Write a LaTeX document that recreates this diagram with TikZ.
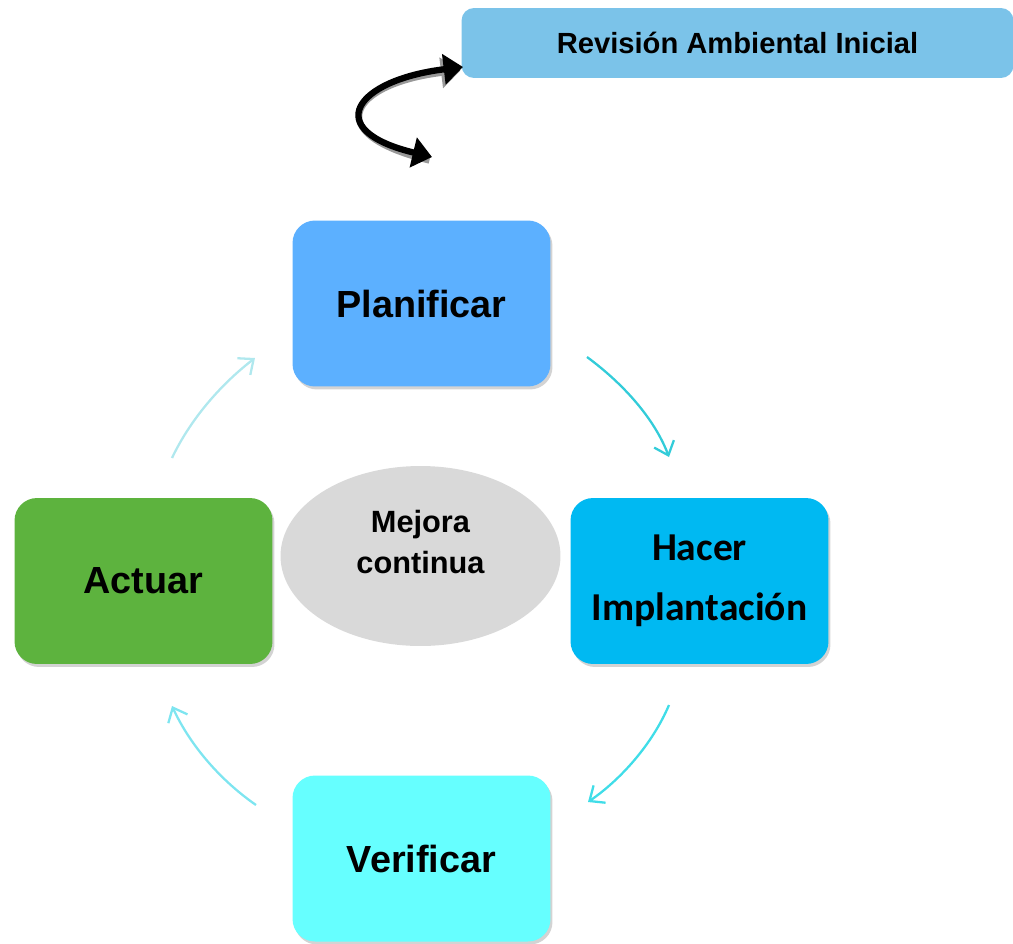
\documentclass[tikz,border=0pt]{standalone}
\usepackage{fontspec}
\setmainfont{Liberation Sans}
\newfontfamily\calfont{Carlito}
\usetikzlibrary{shadows,arrows.meta,shapes.geometric}

\definecolor{revblue}{HTML}{7BC3E9}
\definecolor{planblue}{HTML}{5CB0FF}
\definecolor{hacerblue}{HTML}{00B9F2}
\definecolor{verifcyan}{HTML}{66FFFF}
\definecolor{actgreen}{HTML}{5DB33E}
\definecolor{mejoragray}{HTML}{D9D9D9}

\tikzset{
  phase/.style={rounded corners=0.45cm, minimum width=5.16cm, minimum height=3.32cm,
    align=center, font=\bfseries\fontsize{21.5}{26}\selectfont,
    drop shadow={shadow xshift=0.04cm, shadow yshift=-0.06cm, opacity=0.35}},
  cyclearrow/.style={line width=1.3pt, -{Straight Barb[length=7pt,width=12pt,line width=1.3pt]}},
}

\begin{document}
\begin{tikzpicture}[x=0.02cm,y=-0.02cm]
  \useasboundingbox (0,0) rectangle (1013,943);
  % boxes
  \node[fill=revblue, rounded corners=0.25cm, minimum width=11.04cm, minimum height=1.4cm,
    font=\bfseries\fontsize{16.6}{19}\selectfont] (rev) at (737.5,43) {Revisi\'on Ambiental Inicial};
  \node[phase, fill=planblue] (plan) at (421.5,303.5) {Planificar};
  \node[phase, fill=hacerblue, font=\calfont\bfseries\fontsize{22.5}{34}\selectfont] (hacer) at (699.5,581) {Hacer\\Implantaci\'on};
  \node[phase, fill=verifcyan] (verif) at (421.5,858.5) {Verificar};
  \node[phase, fill=actgreen] (act) at (143.5,581) {Actuar};
  \node[ellipse, fill=mejoragray, minimum width=5.6cm, minimum height=3.6cm,
    label={[align=center, yshift=0.28cm, font=\bfseries\fontsize{17.5}{23}\selectfont]center:Mejora\\continua}] (mejora) at (420.5,556) {};
  % the curved arrow at the top
  \coordinate (c1) at (432,157);
  \coordinate (c2) at (463,67);
  \draw[line width=3.6pt, black!40, -{Triangle[length=11pt,width=17pt]}] ([xshift=-1.5pt,yshift=-2pt]c1)
    .. controls ([xshift=-1.5pt,yshift=-2pt]320,130) and ([xshift=-1.5pt,yshift=-2pt]355,80) .. ([xshift=-1.5pt,yshift=-2pt]c2);
  \draw[line width=3.6pt, black, {Triangle[length=11pt,width=17pt]}-{Triangle[length=11pt,width=17pt]}] (c1)
    .. controls (320,130) and (355,80) .. (c2);
  % cycle arrows
  \coordinate (p1) at (587,357);
  \coordinate (h1) at (669,457);
  \coordinate (h2) at (669,705);
  \coordinate (v1) at (588,802);
  \coordinate (v2) at (256,805);
  \coordinate (a1) at (172,706);
  \coordinate (a2) at (172,458);
  \coordinate (p2) at (255,358);
  \draw[cyclearrow, draw={rgb,255:red,51;green,204;blue,217}] (p1) .. controls (625,385) and (655,420) .. (h1);
  \draw[cyclearrow, draw={rgb,255:red,64;green,221;blue,232}] (h2) .. controls (652,745) and (620,780) .. (v1);
  \draw[cyclearrow, draw={rgb,255:red,126;green,229;blue,240}] (v2) .. controls (220,780) and (190,745) .. (a1);
  \draw[cyclearrow, draw={rgb,255:red,176;green,232;blue,238}] (a2) .. controls (190,420) and (220,385) .. (p2);
\end{tikzpicture}
\end{document}
